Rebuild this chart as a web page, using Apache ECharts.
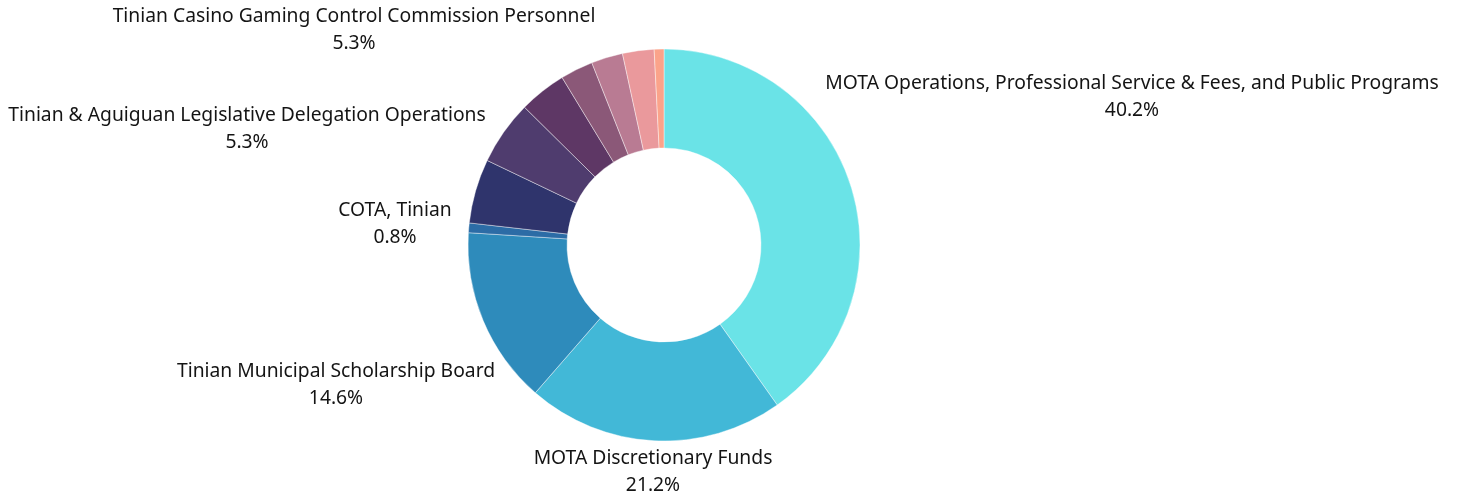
<!DOCTYPE html>
<html>
<head>
<meta charset="utf-8">
<script src="https://cdn.jsdelivr.net/npm/echarts@6/dist/echarts.min.js"></script>
<style>
  html, body { margin: 0; padding: 0; background: #fff; }
  #chart { width: 1457px; height: 495px; }
</style>
</head>
<body>
<div id="chart"></div>
<script>
// slice names, shares (percent) and colours, clockwise from the top
const names = [
  'MOTA Operations, Professional Service & Fees, and Public Programs',
  'MOTA Discretionary Funds',
  'Tinian Municipal Scholarship Board',
  'COTA, Tinian',
  'Tinian & Aguiguan Legislative Delegation Operations',
  'Tinian Casino Gaming Control Commission Personnel',
  'Other Program 1',
  'Other Program 2',
  'Other Program 3',
  'Other Program 4',
  'Other Program 5'
];
const shares = [40.2, 21.2, 14.6, 0.8, 5.3, 5.3, 3.9, 2.7, 2.6, 2.6, 0.8];
const colors = ['#6ae3e7', '#42b8d7', '#2e8bbb', '#2c6ca6', '#2f346c', '#4f3c6e',
                '#5e3765', '#8b5878', '#b97b93', '#ea999c', '#fba38a'];
const labelledCount = 6;

// where each visible label sits (centre of the text block)
const labelSpots = [
  [1132, 97], [653, 472], [336, 385], [395, 224], [247, 129], [354, 30]
];

const chart = echarts.init(document.getElementById('chart'));

const data = names.map((n, i) => ({
  name: n,
  value: shares[i],
  itemStyle: { color: colors[i] },
  label: { show: i < labelledCount }
}));

chart.setOption({
  animation: false,
  series: [{
    type: 'pie',
    center: [664, 245],
    radius: [97, 196],
    startAngle: 90,
    clockwise: true,
    avoidLabelOverlap: false,
    itemStyle: { borderColor: 'rgba(255,255,255,0.7)', borderWidth: 0.6 },
    label: {
      position: 'outside',
      fontFamily: 'Noto Sans',
      fontSize: 19.3,
      lineHeight: 27,
      color: '#141414',
      align: 'center',
      formatter: p => p.name + '\n' + p.value.toFixed(1) + '%'
    },
    labelLine: { show: false },
    labelLayout: p => {
      const spot = labelSpots[p.dataIndex];
      if (!spot) return {};
      return { x: spot[0], y: spot[1], align: 'center', verticalAlign: 'middle' };
    },
    data: data
  }]
});
</script>
</body>
</html>
